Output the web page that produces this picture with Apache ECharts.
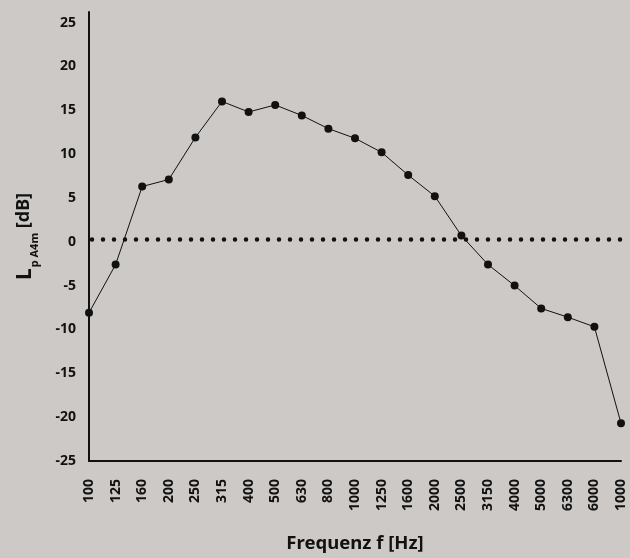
<!DOCTYPE html>
<html>
<head>
<meta charset="utf-8">
<script src="https://cdn.jsdelivr.net/npm/echarts@6/dist/echarts.min.js"></script>
<style>
  html, body { margin: 0; padding: 0; background: #ccc9c6; }
  #chart { width: 630px; height: 558px; }
</style>
</head>
<body>
<div id="chart"></div>
<script>
// terzband frequencies (labels as printed on the chart)
var freqLabels = ['100', '125', '160', '200', '250', '315', '400', '500', '630', '800',
    '1000', '1250', '1600', '2000', '2500', '3150', '4000', '5000', '6300', '6000', '1000'];
// sound pressure level L_p A4m in dB
var levels = [-8.1, -2.6, 6.3, 7.1, 11.9, 16.0, 14.8, 15.6, 14.4, 12.9,
    11.8, 10.2, 7.6, 5.2, 0.7, -2.6, -5.0, -7.6, -8.6, -9.7, -20.7];
// dotted reference level
var refLevel = 0.35;
var refX = [0, 1];

var yMin = -25, yMax = 26.2, yStep = 5;
var font = '"Noto Sans", Lato, sans-serif';

var chart = echarts.init(document.getElementById('chart'));

var option = {
    backgroundColor: '#ccc9c6',
    animation: false,
    grid: [
        {left: 89, right: 9, top: 12, bottom: 95.5},
        {left: 89, right: 0, top: 12, bottom: 95.5}
    ],
    xAxis: [
        {
            type: 'category',
            gridIndex: 0,
            data: freqLabels,
            boundaryGap: false,
            name: 'Frequenz f [Hz]',
            nameLocation: 'middle',
            nameGap: 73,
            nameTextStyle: {fontFamily: font, fontWeight: 'bold', fontSize: 18.5, color: '#111'},
            axisLine: {onZero: false, lineStyle: {color: '#111', width: 2}},
            axisTick: {show: false},
            splitLine: {show: false},
            axisLabel: {
                interval: 0,
                rotate: 90,
                margin: 18,
                fontFamily: font,
                fontWeight: 'bold',
                fontSize: 14,
                color: '#111'
            }
        },
        {
            type: 'value',
            gridIndex: 1,
            min: 0,
            max: 1,
            show: false
        }
    ],
    yAxis: [
        {
            type: 'value',
            gridIndex: 0,
            min: yMin,
            max: yMax,
            interval: yStep,
            name: '{l|L}{s|p A4m}{u| [dB]}',
            nameLocation: 'middle',
            nameGap: 52,
            nameTextStyle: {
                color: '#111',
                rich: {
                    l: {fontFamily: font, fontWeight: 'bold', fontSize: 21, lineHeight: 22, verticalAlign: 'top', color: '#111'},
                    s: {fontFamily: font, fontWeight: 'bold', fontSize: 11, lineHeight: 11, verticalAlign: 'top', padding: [14, 0, 0, 1], color: '#111'},
                    u: {fontFamily: font, fontWeight: 'bold', fontSize: 18, lineHeight: 22, verticalAlign: 'top', color: '#111'}
                }
            },
            axisLine: {show: true, lineStyle: {color: '#111', width: 2}},
            axisTick: {show: false},
            splitLine: {show: false},
            axisLabel: {
                showMaxLabel: false,
                margin: 13,
                fontFamily: font,
                fontWeight: 'bold',
                fontSize: 14,
                color: '#111'
            }
        },
        {
            type: 'value',
            gridIndex: 1,
            min: yMin,
            max: yMax,
            show: false
        }
    ],
    series: [
        {
            type: 'line',
            xAxisIndex: 1,
            yAxisIndex: 1,
            data: refX.map(function (x) { return [x, refLevel]; }),
            symbol: 'none',
            silent: true,
            lineStyle: {color: '#111', width: 4.5, type: [0, 11], cap: 'round', dashOffset: -3}
        },
        {
            type: 'line',
            data: levels,
            symbol: 'circle',
            symbolSize: 8,
            itemStyle: {color: '#111'},
            lineStyle: {color: '#111', width: 1}
        }
    ]
};

chart.setOption(option);
</script>
</body>
</html>
